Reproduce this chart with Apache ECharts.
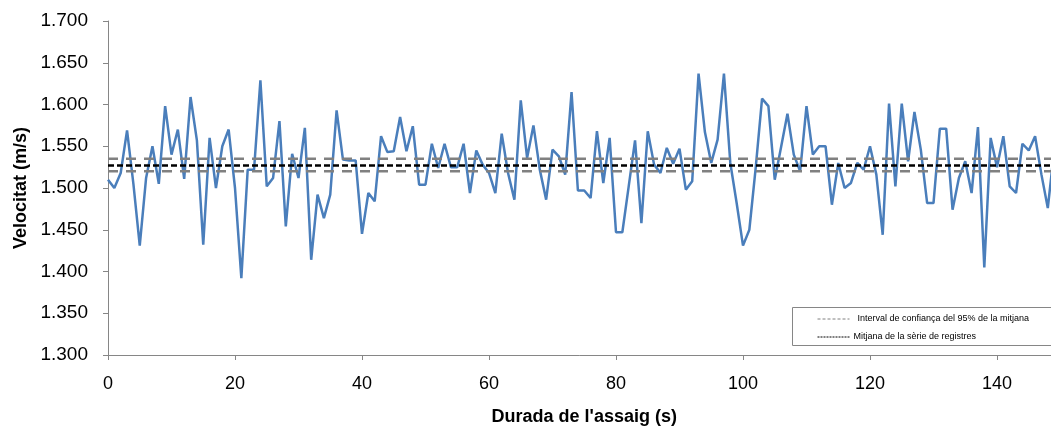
<!DOCTYPE html>
<html>
<head>
<meta charset="utf-8">
<script src="https://cdn.jsdelivr.net/npm/echarts@6/dist/echarts.min.js"></script>
<style>
  html, body { margin: 0; padding: 0; background: #ffffff; }
  #chart { width: 1051px; height: 426px; }
</style>
</head>
<body>
<div id="chart"></div>
<script>
// Velocity recorded once per second during the test (m/s)
const velocity = [
  1.510, 1.500, 1.518, 1.569, 1.505, 1.431, 1.512, 1.550, 1.505, 1.598,
  1.540, 1.570, 1.511, 1.609, 1.557, 1.432, 1.560, 1.500, 1.550, 1.570,
  1.500, 1.392, 1.522, 1.522, 1.629, 1.502, 1.512, 1.580, 1.454, 1.541,
  1.512, 1.572, 1.414, 1.492, 1.464, 1.492, 1.593, 1.534, 1.533, 1.533,
  1.445, 1.494, 1.484, 1.562, 1.543, 1.544, 1.585, 1.544, 1.574, 1.504,
  1.504, 1.553, 1.524, 1.553, 1.525, 1.525, 1.553, 1.494, 1.545, 1.528,
  1.518, 1.494, 1.565, 1.518, 1.486, 1.605, 1.536, 1.575, 1.522, 1.486,
  1.546, 1.538, 1.516, 1.615, 1.497, 1.497, 1.488, 1.568, 1.506, 1.560,
  1.447, 1.447, 1.502, 1.557, 1.458, 1.568, 1.528, 1.518, 1.548, 1.529,
  1.547, 1.498, 1.508, 1.637, 1.567, 1.530, 1.558, 1.637, 1.530, 1.482,
  1.431, 1.450, 1.524, 1.607, 1.598, 1.510, 1.549, 1.589, 1.540, 1.520,
  1.598, 1.540, 1.550, 1.550, 1.480, 1.530, 1.500, 1.506, 1.530, 1.522,
  1.550, 1.516, 1.444, 1.601, 1.502, 1.601, 1.532, 1.591, 1.546, 1.482,
  1.482, 1.571, 1.571, 1.474, 1.512, 1.532, 1.494, 1.573, 1.405, 1.560,
  1.525, 1.562, 1.502, 1.494, 1.553, 1.545, 1.562, 1.516, 1.476, 1.545
];

// Mean of the series and its 95% confidence interval
const seriesMean = 1.527;
const ciLower = 1.520;
const ciUpper = 1.535;

// Time span covered by the horizontal reference lines (s)
const timeSpan = [0, 150];

const legendLabels = [
  'Interval de confiança del 95% de la mitjana',
  'Mitjana de la sèrie de registres'
];

const xTitle = "Durada de l'assaig (s)";
const yTitle = 'Velocitat (m/s)';

const points = velocity.map((v, i) => [i, v]);
const flatLine = v => timeSpan.map(t => [t, v]);

const AXIS_GREY = '#868686';
const TICK_FONT = '"Liberation Sans", Arial, sans-serif';

function refLine(name, value, color, dash, z) {
  return {
    name: name,
    type: 'line',
    data: flatLine(value),
    showSymbol: false,
    symbol: 'none',
    silent: true,
    lineStyle: { color: color, width: 2.5, type: dash },
    z: z
  };
}

const chart = echarts.init(document.getElementById('chart'), null, { renderer: 'canvas' });

chart.setOption({
  backgroundColor: '#ffffff',
  animation: false,
  grid: {
    left: 108, top: 21, bottom: 71, right: -9.5,
    containLabel: false, outerBoundsMode: 'none'
  },
  xAxis: {
    type: 'value',
    min: 0,
    max: 150,
    interval: 20,
    name: xTitle,
    nameLocation: 'middle',
    nameGap: 53,
    nameTextStyle: { fontFamily: TICK_FONT, fontWeight: 'bold', fontSize: 18, color: '#000' },
    axisLine: { show: true, lineStyle: { color: AXIS_GREY, width: 1 } },
    axisTick: { show: true, inside: false, length: 5, lineStyle: { color: AXIS_GREY } },
    axisLabel: { color: '#000', fontFamily: TICK_FONT, fontSize: 18, margin: 20, showMaxLabel: false },
    splitLine: { show: false }
  },
  yAxis: {
    type: 'value',
    min: 1.3,
    max: 1.7,
    interval: 0.05,
    name: yTitle,
    nameLocation: 'middle',
    nameGap: 78,
    nameTextStyle: { fontFamily: TICK_FONT, fontWeight: 'bold', fontSize: 18, color: '#000' },
    axisLine: { show: true, lineStyle: { color: AXIS_GREY, width: 1 } },
    axisTick: { show: true, inside: false, length: 5, lineStyle: { color: AXIS_GREY } },
    axisLabel: {
      color: '#000', fontFamily: TICK_FONT, fontSize: 19, margin: 20,
      formatter: v => v.toFixed(3)
    },
    splitLine: { show: false }
  },
  series: [
    {
      name: 'velocitat',
      type: 'line',
      data: points,
      showSymbol: false,
      symbol: 'none',
      lineStyle: { color: '#4a7ebb', width: 2.5 },
      z: 2
    },
    refLine('ci-upper', ciUpper, '#808080', [10, 8], 3),
    refLine('ci-lower', ciLower, '#808080', [10, 8], 3),
    refLine('mitjana', seriesMean, '#000000', [6, 3], 4)
  ],
  graphic: [
    {
      type: 'group',
      left: 792,
      top: 307,
      children: [
        {
          type: 'rect',
          shape: { x: 0, y: 0, width: 270, height: 38 },
          style: { fill: '#ffffff', stroke: AXIS_GREY, lineWidth: 1 }
        },
        {
          type: 'line',
          shape: { x1: 25, y1: 11.5, x2: 57, y2: 11.5 },
          style: { stroke: '#808080', lineWidth: 1, lineDash: [3, 2] }
        },
        {
          type: 'text',
          style: {
            x: 65, y: 11.5, text: legendLabels[0], fill: '#000',
            font: '9px ' + TICK_FONT, verticalAlign: 'middle'
          }
        },
        {
          type: 'line',
          shape: { x1: 25, y1: 29.5, x2: 58, y2: 29.5 },
          style: { stroke: '#000000', lineWidth: 1, lineDash: [2, 1] }
        },
        {
          type: 'text',
          style: {
            x: 61, y: 29.5, text: legendLabels[1], fill: '#000',
            font: '9px ' + TICK_FONT, verticalAlign: 'middle'
          }
        }
      ]
    }
  ]
});
</script>
</body>
</html>
